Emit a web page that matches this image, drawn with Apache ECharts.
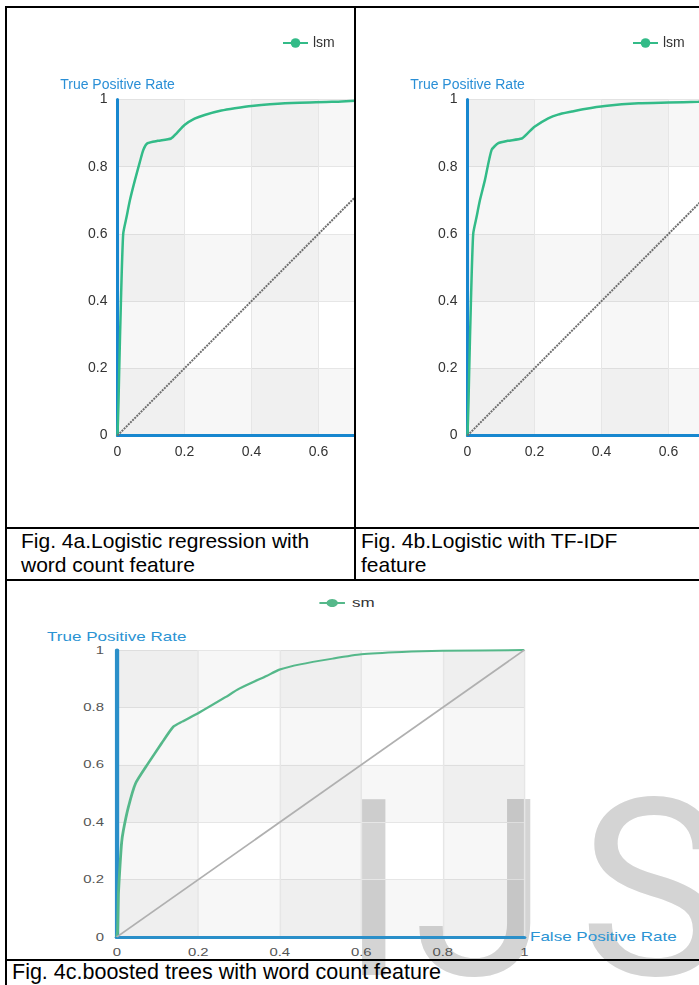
<!DOCTYPE html>
<html><head><meta charset="utf-8">
<script src="https://cdn.jsdelivr.net/npm/echarts@6/dist/echarts.min.js"></script>
<style>
html,body{margin:0;padding:0;background:#fff;}
body{width:699px;height:985px;position:relative;overflow:hidden;font-family:"Liberation Sans",Arial,sans-serif;}
.abs{position:absolute;}
.ln{position:absolute;background:#000;}
.cap{position:absolute;font-size:21px;line-height:24px;color:#000;white-space:nowrap;}
.wm{position:absolute;top:767px;font-family:Roboto,sans-serif;font-size:247px;line-height:247px;color:#d4d4d4;white-space:nowrap;}
</style></head><body>
<span class="wm" style="left:340px">I</span>
<span class="wm" style="left:413px">J</span>
<span class="wm" style="left:579px">S</span>

<div class="abs" style="left:7px;top:8px;width:347px;height:519px;overflow:hidden"><div id="ca" style="width:500px;height:519px"></div></div>
<div class="abs" style="left:356px;top:8px;width:343px;height:519px;overflow:hidden"><div id="cb" style="width:500px;height:519px"></div></div>
<div class="abs" style="left:7px;top:581px;width:692px;height:378px;overflow:hidden"><div id="cc" style="width:487px;height:378px;transform:scaleX(1.42);transform-origin:0 0"></div></div>

<div class="ln" style="left:5px;top:6px;width:694px;height:2px"></div>
<div class="ln" style="left:5px;top:6px;width:2px;height:979px"></div>
<div class="ln" style="left:354px;top:6px;width:2px;height:575px"></div>
<div class="ln" style="left:5px;top:527px;width:694px;height:2px"></div>
<div class="ln" style="left:5px;top:579px;width:694px;height:2px"></div>
<div class="ln" style="left:5px;top:959px;width:694px;height:2px"></div>

<div class="cap" style="left:21px;top:529px">Fig. 4a.Logistic regression with<br>word count feature</div>
<div class="cap" style="left:361px;top:529px">Fig. 4b.Logistic with TF-IDF<br>feature</div>
<div class="cap" style="left:12px;top:960px;font-size:21.5px">Fig. 4c.boosted trees with word count feature</div>

<script>
// ---- data ----
const tickLabels = ['0', '0.2', '0.4', '0.6', '0.8', '1'];
const diagFpr = [0, 1];
const diagTpr = [0, 1];

const fprA = [0, 0.003, 0.005, 0.01, 0.017, 0.027, 0.037, 0.052, 0.067, 0.077, 0.09, 0.12, 0.16, 0.177, 0.2, 0.23, 0.26, 0.31, 0.35, 0.4, 0.5, 0.64, 0.71, 0.85, 1];
const tprA = [0, 0.1, 0.19, 0.39, 0.6, 0.65, 0.70, 0.76, 0.815, 0.85, 0.87, 0.877, 0.884, 0.90, 0.924, 0.943, 0.954, 0.967, 0.974, 0.981, 0.989, 0.993, 0.996, 0.998, 1];

const fprB = [0, 0.003, 0.005, 0.01, 0.017, 0.027, 0.037, 0.052, 0.072, 0.092, 0.12, 0.162, 0.18, 0.2, 0.241, 0.27, 0.311, 0.35, 0.41, 0.51, 0.6, 0.689, 0.85, 1];
const tprB = [0, 0.1, 0.19, 0.39, 0.6, 0.65, 0.70, 0.76, 0.85, 0.87, 0.877, 0.884, 0.90, 0.919, 0.944, 0.955, 0.964, 0.972, 0.981, 0.989, 0.991, 0.993, 0.998, 1];

const fprC = [0, 0.002, 0.004, 0.008, 0.012, 0.016, 0.028, 0.046, 0.077, 0.11, 0.139, 0.16, 0.2, 0.266, 0.3, 0.368, 0.4, 0.45, 0.53, 0.6, 0.7, 0.8, 1];
const tprC = [0, 0.02, 0.15, 0.25, 0.33, 0.37, 0.45, 0.535, 0.605, 0.675, 0.733, 0.75, 0.78, 0.835, 0.865, 0.91, 0.932, 0.95, 0.97, 0.985, 0.993, 0.997, 1];

const seriesNameAB = 'lsm';
const seriesNameC = 'sm';
const yName = 'True Positive Rate';
const xName = 'False Positive Rate';

function pairs(xs, ys) { return xs.map((x, i) => [x, ys[i]]); }

function makeOption(p) {
  const fmt = v => tickLabels[Math.round(v / 0.2)];
  const axisCommon = {
    type: 'value', min: 0, max: 1, interval: 0.2,
    axisLine: { lineStyle: { color: p.axisColor, width: 3 } },
    axisTick: { show: false },
    splitLine: { lineStyle: { color: '#e6e6e6', width: 1 } },
    splitArea: { show: true, areaStyle: { color: ['rgba(0,0,0,0.03)', 'rgba(0,0,0,0)'] } },
    nameTextStyle: { color: p.nameColor, fontSize: p.nameFs }
  };
  return {
    animation: false,
    textStyle: { fontFamily: 'Liberation Sans, Arial, sans-serif' },
    legend: {
      data: [p.name], left: p.legLeft, top: p.legTop, padding: 0,
      itemWidth: p.legW, itemHeight: p.legH, itemGap: 6,
      textStyle: { fontSize: p.legFs, color: '#333' }
    },
    grid: { left: p.gl, top: p.gt, width: p.gw, height: p.gh },
    xAxis: Object.assign({}, axisCommon, {
      name: p.xName || '', nameLocation: 'end', nameGap: p.xNameGap || 5,
      axisLabel: { color: p.labColor, fontSize: p.fs, margin: p.xm, formatter: fmt }
    }),
    yAxis: Object.assign({}, axisCommon, {
      name: yName, nameLocation: 'end', nameGap: p.yNameGap,
      axisLabel: { color: p.labColor, fontSize: p.fs, margin: p.ym, formatter: fmt }
    }),
    series: [
      {
        name: p.name, type: 'line', data: pairs(p.fpr, p.tpr),
        symbol: 'circle', symbolSize: 7, showSymbol: false, smooth: 0.2,
        lineStyle: { color: p.color, width: p.lw }, itemStyle: { color: p.color }
      },
      {
        name: 'diag', type: 'line', data: pairs(diagFpr, diagTpr), symbol: 'none', silent: true,
        lineStyle: { color: p.diagColor, width: p.diagW, type: p.diagType }
      }
    ]
  };
}

const abBase = {
  name: seriesNameAB, axisColor: '#1787cf', nameColor: '#2a8fd6', nameFs: 14,
  labColor: '#333', fs: 14, xm: 10, ym: 10, yNameGap: 4,
  legLeft: 275, legTop: 28, legW: 25, legH: 12, legFs: 14,
  gt: 91.5, gw: 335, gh: 336,
  color: '#33bb88', lw: 2.5, diagColor: '#6e6e6e', diagW: 2, diagType: [2, 1]
};

const ca = echarts.init(document.getElementById('ca'));
ca.setOption(makeOption(Object.assign({}, abBase, { gl: 110.5, fpr: fprA, tpr: tprA })));

const cb = echarts.init(document.getElementById('cb'));
cb.setOption(makeOption(Object.assign({}, abBase, { gl: 111.5, legLeft: 276, fpr: fprB, tpr: tprB })));

const cc = echarts.init(document.getElementById('cc'), null, { renderer: 'svg' });
cc.setOption(makeOption({
  name: seriesNameC, axisColor: '#2a8fc9', nameColor: '#2a93d3', nameFs: 12,
  labColor: '#555', fs: 10.5, xm: 10, ym: 9, yNameGap: 7,
  xName: xName, xNameGap: 4,
  legLeft: 219, legTop: 16, legW: 18, legH: 10, legFs: 12,
  gl: 77.3, gt: 69, gw: 287, gh: 287,
  color: '#55b88a', lw: 2, diagColor: '#b0b0b0', diagW: 1.5, diagType: 'solid',
  fpr: fprC, tpr: tprC
}));
</script>
</body></html>
